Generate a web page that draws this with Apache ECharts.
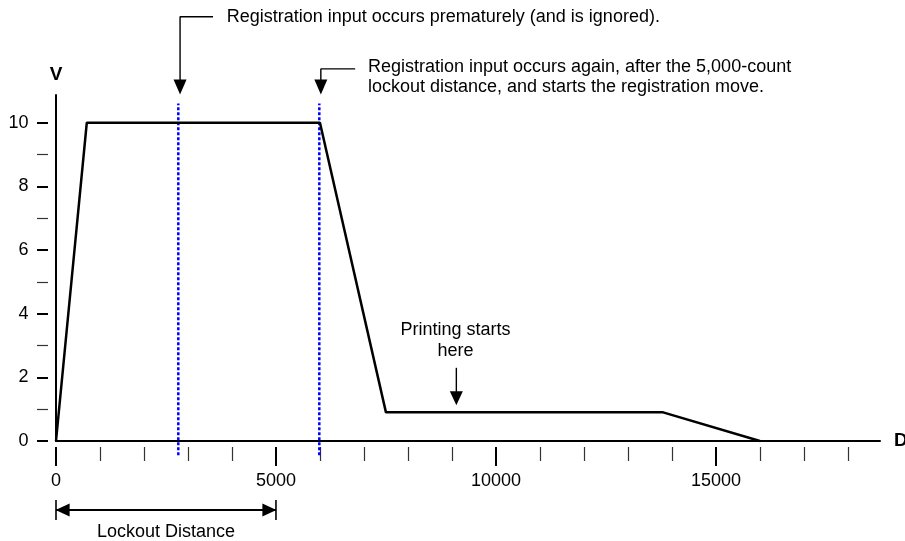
<!DOCTYPE html>
<html>
<head>
<meta charset="utf-8">
<script src="https://cdn.jsdelivr.net/npm/echarts@6/dist/echarts.min.js"></script>
<style>html,body{margin:0;padding:0;background:#fff;}#c{width:905px;height:541px;}</style>
</head>
<body>
<div id="c"></div>
<script>
// ---- data ----
const distance = [0, 700, 6000, 7500, 13800, 16000];
const velocity = [0, 10, 10, 0.9, 0.9, 0];
const registrationEvents = [2780, 5985];
const registrationSpan = [-0.45, 10.6];
const xMajorTicks = [0, 5000, 10000, 15000];
const xMinorTicks = [1000, 2000, 3000, 4000, 6000, 7000, 8000, 9000, 11000, 12000, 13000, 14000, 16000, 17000, 18000];
const yMajorTicks = [0, 2, 4, 6, 8, 10];
const yMinorTicks = [1, 3, 5, 7, 9];
const xRange = [0, 18730];
const yRange = [0, 10.87];
const lockoutDistance = [0, 5000];
const printStart = 9100;
const noteTexts = [
  'Registration input occurs prematurely (and is ignored).',
  'Registration input occurs again, after the 5,000-count\nlockout distance, and starts the registration move.',
  'Printing starts\nhere',
  'Lockout Distance'
];
// annotation anchors (data units)
const note1Bracket = [[3570, 13.33], [2820, 13.33], [2820, 11.34]];
const note1Head = [2820, 11.12];
const note1Text = [3880, 13.33];
const note2Bracket = [[6800, 11.69], [6020, 11.69], [6020, 11.34]];
const note2Head = [6020, 11.12];
const note2Text = [7090, 11.44];
const printShaft = [[printStart, 2.30], [printStart, 1.54]];
const printHead = [printStart, 1.34];
const printText = [9080, 3.16];
const lockoutY = -2.17;
const lockoutBarY = [-1.85, -2.48];
const lockoutHeadInset = 150;
const lockoutTextY = -2.85;

const FONT = 'Liberation Sans, Arial, Helvetica, sans-serif';
const INK = '#000';

const chart = echarts.init(document.getElementById('c'), null, {renderer: 'canvas'});

function line(data, width, extra) {
  return Object.assign({
    type: 'line', data: data, symbol: 'none', showSymbol: false, clip: false,
    silent: true, animation: false, z: 3,
    lineStyle: {color: INK, width: width, opacity: 1}
  }, extra || {});
}
function tri(point, rot, size) {
  return {value: point, symbolRotate: rot, symbolSize: size};
}
function label(point, text, align, lh) {
  return {
    value: point,
    label: {
      show: true, position: 'inside', formatter: text, align: align, verticalAlign: 'middle',
      color: INK, opacity: 1, fontSize: 18, fontFamily: FONT, lineHeight: lh || 20.5
    }
  };
}

const series = [
  line(distance.map((d, i) => [d, velocity[i]]), 2.5, {z: 5}),
  ...registrationEvents.map(x => line([[x, registrationSpan[0]], [x, registrationSpan[1]]], 2.5,
      {z: 4, lineStyle: {color: '#0000ff', width: 2.5, type: [3, 2], opacity: 1}})),
  line(note1Bracket, 1.4),
  line(note2Bracket, 1.4),
  line(printShaft, 1.4),
  line([[lockoutDistance[0], lockoutY], [lockoutDistance[1], lockoutY]], 2),
  line([[lockoutDistance[0], lockoutBarY[0]], [lockoutDistance[0], lockoutBarY[1]]], 1.6),
  line([[lockoutDistance[1], lockoutBarY[0]], [lockoutDistance[1], lockoutBarY[1]]], 1.6),
  {
    type: 'scatter', symbol: 'triangle', clip: false, silent: true, animation: false, z: 6,
    itemStyle: {color: INK, opacity: 1},
    data: [
      tri(note1Head, 180, [13, 15]),
      tri(note2Head, 180, [13, 15]),
      tri(printHead, 180, [13, 14]),
      tri([lockoutDistance[0] + lockoutHeadInset, lockoutY], 90, [13, 14]),
      tri([lockoutDistance[1] - lockoutHeadInset, lockoutY], -90, [13, 14])
    ]
  },
  {
    type: 'scatter', symbolSize: 1, clip: false, silent: true, animation: false, z: 6,
    itemStyle: {color: '#fff', opacity: 1},
    data: [
      label(note1Text, noteTexts[0], 'left'),
      label(note2Text, noteTexts[1], 'left'),
      label(printText, noteTexts[2], 'center', 20.7),
      label([(lockoutDistance[0] + lockoutDistance[1]) / 2, lockoutTextY], noteTexts[3], 'center')
    ]
  }
];

const plain = v => String(v);
const baseAxis = {type: 'value', splitLine: {show: false}, axisLine: {onZero: false}};
const option = {
  backgroundColor: '#fff',
  animation: false,
  textStyle: {fontFamily: FONT},
  grid: {left: 56, right: 25, top: 95, bottom: 100, containLabel: false, outerBoundsMode: 'none'},
  xAxis: [
    Object.assign({}, baseAxis, {
      min: xRange[0], max: xRange[1], position: 'bottom',
      axisLine: {show: true, onZero: false, lineStyle: {color: INK, width: 2}},
      axisTick: {show: false}, axisLabel: {show: false},
      name: 'D', nameLocation: 'end', nameGap: 14,
      nameTextStyle: {color: INK, fontSize: 19, fontWeight: 'bold', fontFamily: FONT, verticalAlign: 'middle', align: 'left'}
    }),
    Object.assign({}, baseAxis, {
      min: xRange[0], max: xRange[1], position: 'bottom', offset: 6,
      axisLine: {show: false, onZero: false},
      axisTick: {show: true, customValues: xMajorTicks, length: 19, lineStyle: {color: INK, width: 2}},
      axisLabel: {show: true, customValues: xMajorTicks, formatter: plain, margin: 25, color: INK, fontSize: 18, fontFamily: FONT}
    }),
    Object.assign({}, baseAxis, {
      min: xRange[0], max: xRange[1], position: 'bottom', offset: 6,
      axisLine: {show: false, onZero: false},
      axisTick: {show: true, customValues: xMinorTicks, length: 14, lineStyle: {color: '#333', width: 1.2}},
      axisLabel: {show: false}
    })
  ],
  yAxis: [
    Object.assign({}, baseAxis, {
      min: yRange[0], max: yRange[1], position: 'left',
      axisLine: {show: true, onZero: false, lineStyle: {color: INK, width: 2}},
      axisTick: {show: false}, axisLabel: {show: false},
      name: 'V', nameLocation: 'end', nameGap: 11,
      nameTextStyle: {color: INK, fontSize: 19, fontWeight: 'bold', fontFamily: FONT}
    }),
    Object.assign({}, baseAxis, {
      min: yRange[0], max: yRange[1], position: 'left', offset: 8,
      axisLine: {show: false, onZero: false},
      axisTick: {show: true, customValues: yMajorTicks, length: 11, lineStyle: {color: INK, width: 2}},
      axisLabel: {show: true, customValues: yMajorTicks, formatter: plain, margin: 19.5, color: INK, fontSize: 18, fontFamily: FONT}
    }),
    Object.assign({}, baseAxis, {
      min: yRange[0], max: yRange[1], position: 'left', offset: 8,
      axisLine: {show: false, onZero: false},
      axisTick: {show: true, customValues: yMinorTicks, length: 11, lineStyle: {color: '#333', width: 1.2}},
      axisLabel: {show: false}
    })
  ],
  series: series
};
chart.setOption(option);
</script>
</body>
</html>
